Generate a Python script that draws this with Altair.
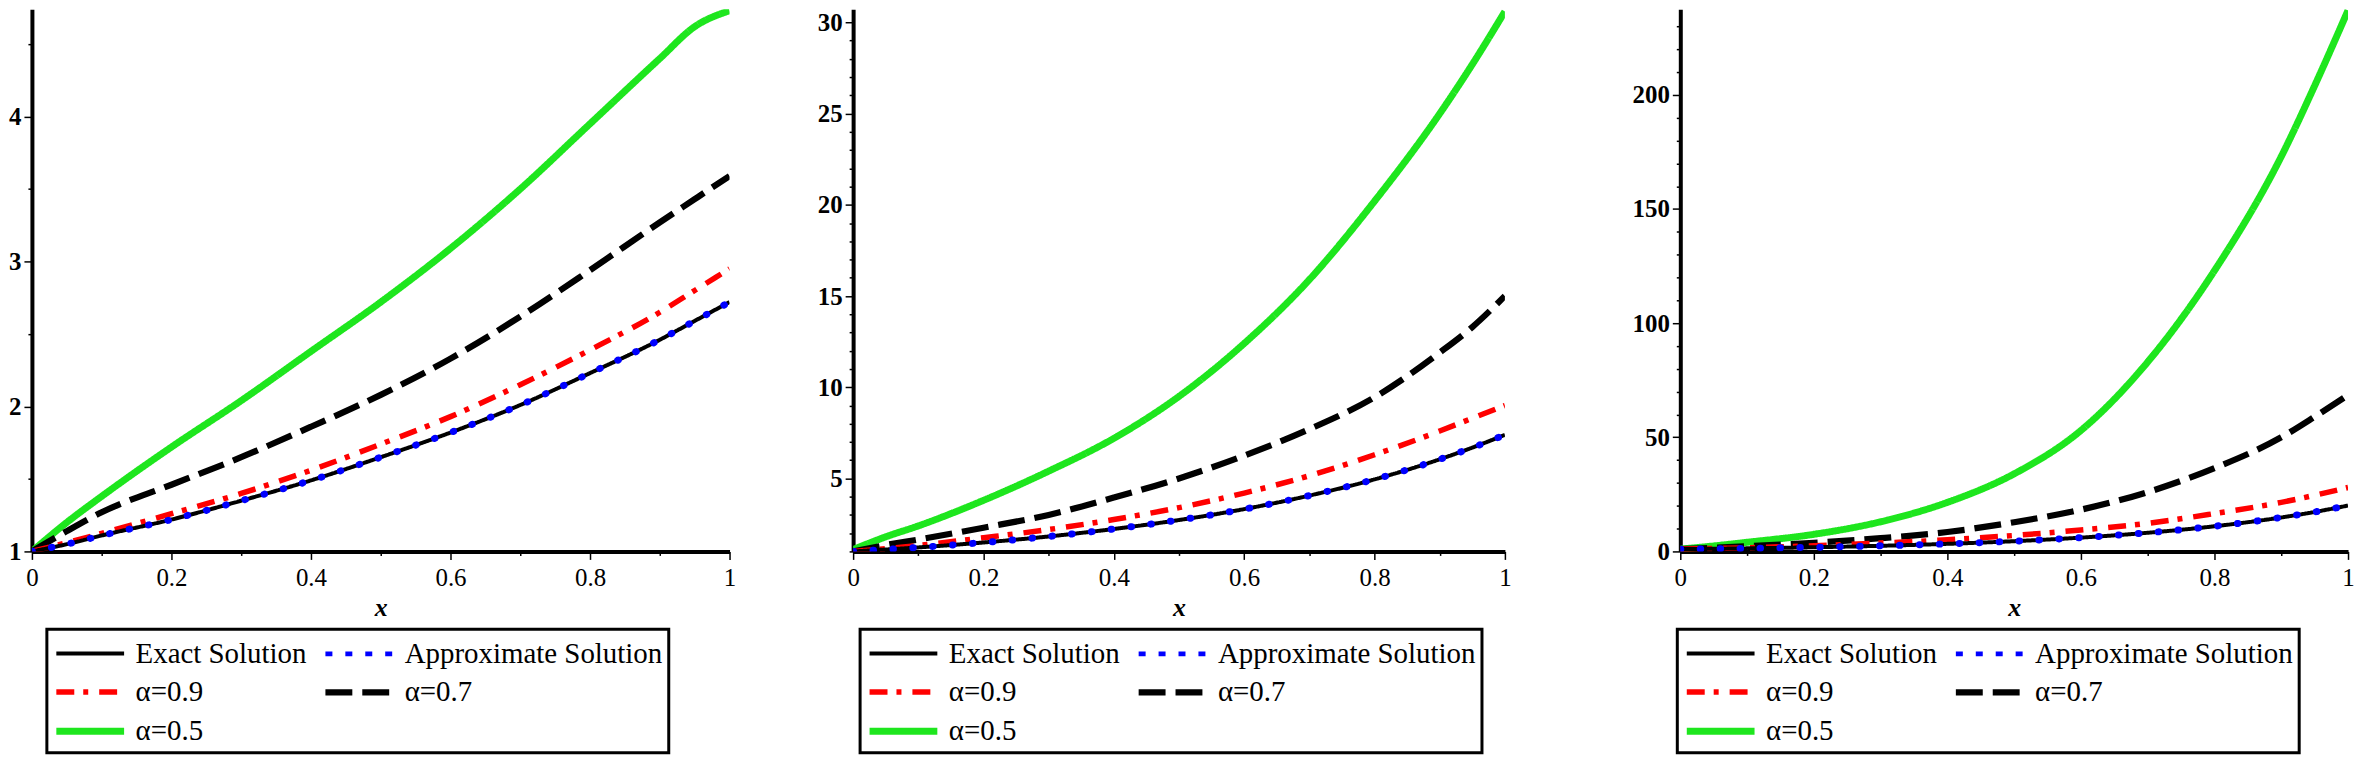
import altair as alt
import pandas as pd

# ---------------- data ----------------
x_grid = [0, 0.05, 0.1, 0.2, 0.3, 0.4, 0.5, 0.6, 0.7, 0.8, 0.9, 0.95, 1.0]

series_names = ["Exact Solution", "Approximate Solution", "α=0.9", "α=0.7", "α=0.5"]
series_colors = ["#000000", "#0000ff", "#ff0000", "#000000", "#1ee61e"]
series_dash = [[1, 0], [7, 13], [18, 9, 5, 11], [27, 10], [1, 0]]
width_extent = [4, 7]
draw_order = ["α=0.5", "α=0.7", "α=0.9", "Exact Solution"]
approx_name = "Approximate Solution"

# panel 1
p1_exact = [1.0, 1.05, 1.11, 1.22, 1.35, 1.49, 1.65, 1.82, 2.01, 2.23, 2.46, 2.59, 2.72]
p1_approx = [1.0, 1.05, 1.11, 1.22, 1.35, 1.49, 1.65, 1.82, 2.01, 2.23, 2.46, 2.59, 2.72]
p1_a09 = [1.0, 1.06, 1.125, 1.26, 1.40, 1.56, 1.74, 1.93, 2.15, 2.39, 2.65, 2.80, 2.95]
p1_a07 = [1.0, 1.14, 1.27, 1.46, 1.65, 1.86, 2.08, 2.33, 2.62, 2.94, 3.27, 3.43, 3.59]
p1_a05 = [1.0, 1.20, 1.38, 1.72, 2.04, 2.38, 2.72, 3.09, 3.50, 3.95, 4.40, 4.62, 4.73]

# panel 2
p2_exact = [1.0, 1.105, 1.22, 1.49, 1.82, 2.23, 2.72, 3.32, 4.06, 4.95, 6.05, 6.69, 7.39]
p2_approx = [1.0, 1.105, 1.22, 1.49, 1.82, 2.23, 2.72, 3.32, 4.06, 4.95, 6.05, 6.69, 7.39]
p2_a09 = [1.0, 1.15, 1.33, 1.75, 2.2, 2.75, 3.4, 4.2, 5.15, 6.3, 7.6, 8.3, 9.0]
p2_a07 = [1.0, 1.35, 1.65, 2.3, 3.0, 3.95, 5.0, 6.25, 7.7, 9.45, 11.9, 13.3, 15.0]
p2_a05 = [1.1, 1.8, 2.4, 3.8, 5.4, 7.2, 9.5, 12.4, 15.9, 20.2, 25.0, 27.7, 30.6]

# panel 3
p3_exact = [1.0, 1.16, 1.35, 1.82, 2.46, 3.32, 4.48, 6.05, 8.17, 11.02, 14.88, 17.29, 20.09]
p3_approx = [1.0, 1.16, 1.35, 1.82, 2.46, 3.32, 4.48, 6.05, 8.17, 11.02, 14.88, 17.29, 20.09]
p3_a09 = [1.0, 1.3, 1.6, 2.5, 3.7, 5.1, 7.0, 9.4, 12.3, 16.6, 21.5, 24.6, 28.0]
p3_a07 = [1.0, 1.6, 2.3, 3.8, 5.8, 8.5, 12.8, 18.3, 26.0, 36.5, 50.0, 59.0, 68.5]
p3_a05 = [1.0, 2.4, 4.0, 7.5, 13.0, 21.5, 34.0, 53.0, 83.0, 123.0, 173.0, 204.0, 237.0]

x_ticks = [0, 0.1, 0.2, 0.3, 0.4, 0.5, 0.6, 0.7, 0.8, 0.9, 1.0]
p1_yticks = [1, 1.5, 2, 2.5, 3, 3.5, 4, 4.5]
p2_yticks = list(range(1, 31))
p3_yticks = list(range(0, 240, 10))


def frame(exact, approx, a09, a07, a05):
    rows = []
    for name, vals in zip(series_names, [exact, approx, a09, a07, a05]):
        for xv, yv in zip(x_grid, vals):
            rows.append({"series": name, "x": xv, "y": yv})
    return pd.DataFrame(rows)


FONT = "'Liberation Serif', 'Times New Roman', 'DejaVu Serif', serif"
PLOT_H = 544


def major_test(step):
    return f"abs(datum.value / {step} - round(datum.value / {step})) < 1e-6"


def panel(df, ydomain, yticks, ystep, width, legend_x, yextent):
    xt = major_test(0.2)
    yt = major_test(ystep)
    legend = alt.Legend(
        title=None, orient="none", legendX=legend_x, legendY=PLOT_H + 78,
        direction="horizontal", columns=2, symbolType="M-1,0H3.25", symbolSize=1024,
        labelFont=FONT, labelFontSize=29, labelColor="black",
        labelOffset=44, labelLimit=500, columnPadding=6, rowPadding=4,
        padding=6, strokeColor="black", symbolOpacity=1,
    )
    x_enc = alt.X("x:Q", scale=alt.Scale(domain=[0, 1], nice=False),
                  axis=alt.Axis(values=x_ticks, grid=False, title="x",
                                labelExpr=f"{xt} ? '' + datum.value : ''",
                                tickSize={"condition": {"test": xt, "value": 8}, "value": 4},
                                tickWidth=1.5, tickColor="black",
                                domainColor="black", domainWidth=4,
                                labelFont=FONT, labelFontSize=25, labelColor="black",
                                labelPadding=6, labelOverlap=False, labelFlush=False,
                                titleFont=FONT, titleFontSize=26, titleFontStyle="italic",
                                titleFontWeight="bold", titleColor="black", titlePadding=4))
    y_enc = alt.Y("y:Q", scale=alt.Scale(domain=ydomain, nice=False, zero=False),
                  axis=alt.Axis(values=yticks, grid=False, title=None,
                                labelExpr=f"{yt} ? '' + datum.value : ''",
                                tickSize={"condition": {"test": yt, "value": 8}, "value": 4},
                                tickWidth=1.5, tickColor="black",
                                domainColor="black", domainWidth=4,
                                labelFont=FONT, labelFontSize=25, labelFontWeight="bold",
                                labelColor="black", labelPadding=3, labelOverlap=False,
                                minExtent=yextent, maxExtent=yextent))
    styled = alt.Chart(df).encode(
        x=x_enc, y=y_enc,
        color=alt.Color("series:N", scale=alt.Scale(domain=series_names, range=series_colors), legend=legend),
        strokeDash=alt.StrokeDash("series:N", scale=alt.Scale(domain=series_names, range=series_dash), legend=legend),
        strokeWidth=alt.StrokeWidth("series:N", scale=alt.Scale(type="point", domain=series_names,
                                                                range=width_extent, padding=0), legend=legend),
    )
    layers = [
        styled.transform_filter(alt.datum.series == s).mark_line(interpolate="monotone", clip=True, strokeCap="butt")
        for s in draw_order
    ]
    approx_layer = (
        alt.Chart(df).encode(x=x_enc, y=y_enc)
        .transform_filter(alt.datum.series == approx_name)
        .mark_line(interpolate="monotone", clip=True, color="#0000ff", strokeWidth=7,
                   strokeDash=[0.5, 19.5], strokeCap="round")
    )
    return alt.layer(*layers, approx_layer).properties(width=width, height=PLOT_H)


c1 = panel(frame(p1_exact, p1_approx, p1_a09, p1_a07, p1_a05), [1, 4.74], p1_yticks, 1, 700, 15, 24)
c2 = panel(frame(p2_exact, p2_approx, p2_a09, p2_a07, p2_a05), [1, 30.72], p2_yticks, 5, 654, 7, 36)
c3 = panel(frame(p3_exact, p3_approx, p3_a09, p3_a07, p3_a05), [0, 237.5], p3_yticks, 50, 670, -3, 88)

chart = (
    alt.hconcat(c1, c2, c3, spacing=81)
    .resolve_scale(color="independent", strokeDash="independent", strokeWidth="independent")
    .resolve_legend(color="independent", strokeDash="independent", strokeWidth="independent")
    .properties(padding={"left": 0, "top": 0, "right": 0, "bottom": 0}, background="white")
    .configure_view(strokeWidth=0)
    .configure_legend(strokeWidth=3)
)

chart.save("out.html", embed_options={"renderer": "svg", "actions": False})
